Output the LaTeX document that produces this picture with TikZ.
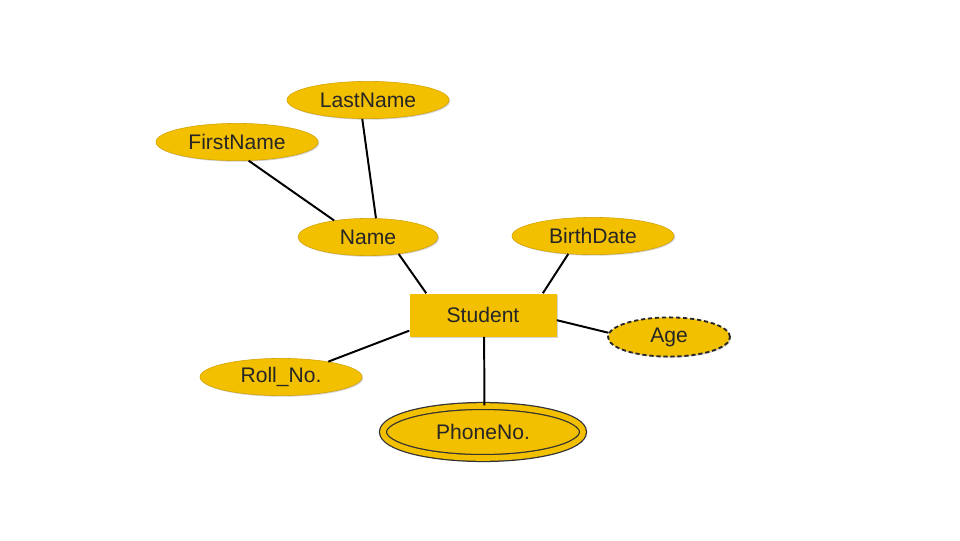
\documentclass[tikz,border=0pt]{standalone}
\usepackage{fontspec}
\setmainfont{Liberation Sans}
\usepackage{xcolor}
\usetikzlibrary{shapes,shapes.geometric,positioning,shadows}
\definecolor{attrgold}{RGB}{243,192,0}
\definecolor{attredge}{RGB}{210,162,0}

\begin{document}
\begin{tikzpicture}[
    font=\fontsize{15}{17}\selectfont,
    attr/.style={ellipse, draw=attredge, fill=attrgold, inner sep=0pt, minimum width=4.05cm, minimum height=0.93cm,
      text=black!85, drop shadow={shadow xshift=0.8pt, shadow yshift=-0.8pt, opacity=0.35}},
    derived/.style={attr, draw=black!85, line width=1.3pt, dash pattern=on 3pt off 2pt},
    multi/.style={attr, draw=black!80, line width=0.9pt, double=attrgold, double distance=4pt},
    entity/.style={rectangle, fill=attrgold, inner sep=0pt, minimum width=3.675cm, minimum height=1.075cm,
      text=black!85, drop shadow={shadow xshift=0.8pt, shadow yshift=-0.8pt, opacity=0.35}},
    link/.style={draw=black, line width=1.4pt}
]
    \useasboundingbox (0,0) rectangle (24,13.5);

    \node[attr] (lastname) at (9.2,11.0) {LastName};
    \node[attr] (firstname) at (5.925,9.95) {FirstName};
    \node[attr, minimum width=3.5cm] (name) at (9.2,7.575) {Name};
    \node[attr] (birthdate) at (14.825,7.6) {BirthDate};
    \node[entity] (student) at (12.075,5.625) {Student};
    \node[derived, minimum width=3.05cm, minimum height=0.98cm] (age) at (16.725,5.075) {Age};
    \node[attr] (rollno) at (7.025,4.075) {Roll\_No.};
    \node[multi, minimum width=5.0cm, minimum height=1.3cm] (phoneno) at (12.075,2.7) {PhoneNo.};

    \draw[link] (firstname.-58) -- (name.154);
    \draw[link] (lastname.-107) -- (name.67);
    \draw[link] (name.-29) -- (student.159);
    \draw[link] (birthdate.-144) -- (student.20);
    \draw[link] (student.-4) -- (age.176);
    \draw[link] (student.192) -- (rollno.18);
    \draw[link] (student.-87) -- (phoneno.87);
\end{tikzpicture}
\end{document}
